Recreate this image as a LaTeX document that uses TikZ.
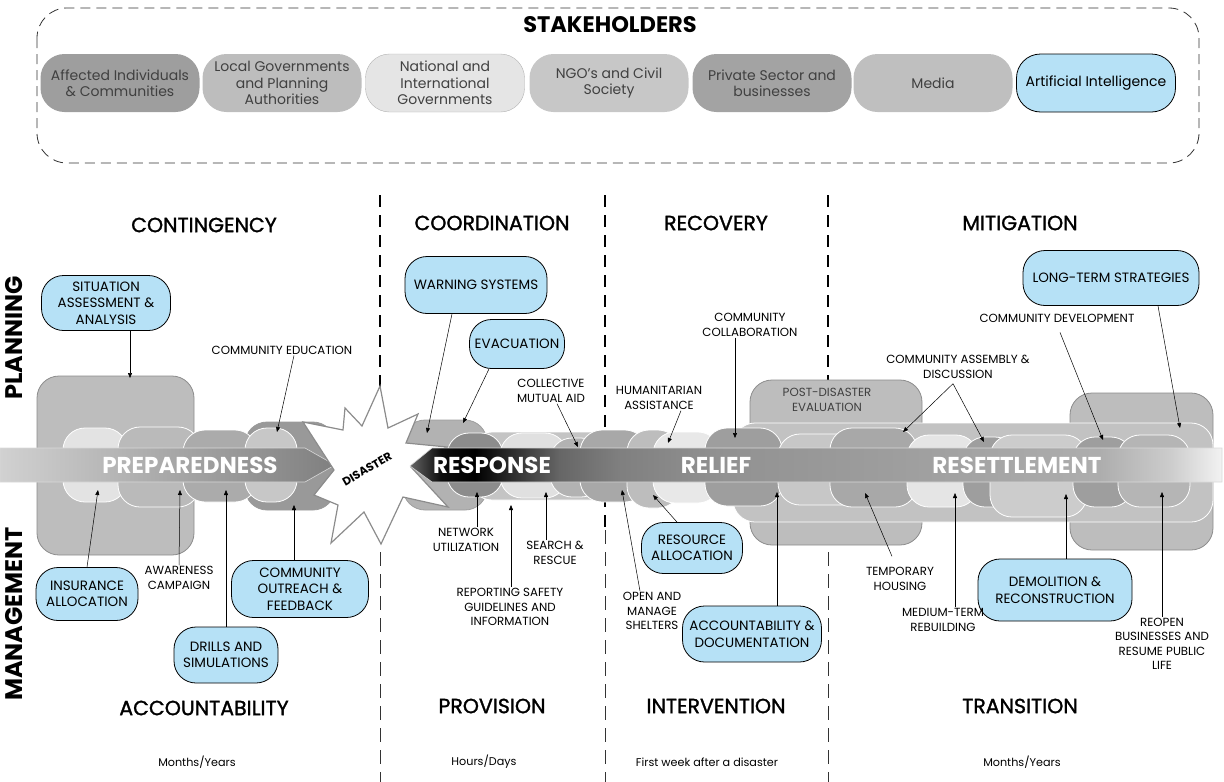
\documentclass[tikz,border=0pt]{standalone}
\usepackage{fontspec}
\setmainfont{Poppins}
\newfontfamily\popmed[FakeBold=1.4]{Poppins}
\usetikzlibrary{arrows.meta}

\definecolor{pillblue}{HTML}{B6E1F6}

\newcommand\hdrfont{\popmed\fontsize{20.5}{22}\selectfont}
\newcommand\bandfont{\bfseries\fontsize{23}{25}\selectfont}
\newcommand\sidefont{\bfseries\fontsize{24}{26}\selectfont}
\newcommand\titlefont{\bfseries\fontsize{22.5}{24}\selectfont}
\newcommand\pillfont{\fontsize{13.5}{16.5}\selectfont}
\newcommand\lblfont{\fontsize{11.8}{14.5}\selectfont}
\newcommand\stakefont{\fontsize{14}{16.5}\selectfont}
\newcommand\timefont{\fontsize{11.2}{13}\selectfont}
\newcommand\starfont{\bfseries\fontsize{11.5}{13}\selectfont}

% shading of the response / relief / resettlement band
\pgfdeclarehorizontalshading{respshade}{100bp}{rgb(0bp)=(.4,.4,.4); rgb(25bp)=(.4,.4,.4); rgb(26.9bp)=(.05,.05,.05); rgb(29bp)=(0,0,0); rgb(34.2bp)=(.4,.4,.4); rgb(37.9bp)=(.5,.5,.5); rgb(44.1bp)=(.57,.57,.57); rgb(55.2bp)=(.62,.62,.62); rgb(67.5bp)=(.68,.68,.68); rgb(71.8bp)=(.8,.8,.8); rgb(75bp)=(.95,.95,.95); rgb(100bp)=(.95,.95,.95)}

\begin{document}
\begin{tikzpicture}[x=1pt,y=-1pt,
  stake/.style={rounded corners=24pt, minimum width=159pt, minimum height=58pt, align=center, font=\stakefont, text=black!75, inner sep=2pt},
  bluepill/.style={draw=black, line width=0.8pt, fill=pillblue, rounded corners=22pt, align=center, font=\pillfont, inner sep=2pt},
  lbl/.style={align=center, font=\lblfont, inner sep=1pt},
  hdr/.style={font=\hdrfont},
  timelbl/.style={font=\timefont},
  bandtxt/.style={font=\bandfont, text=white},
  blob/.style={draw=white, line width=0.8pt, rounded corners=22pt},
  box/.style={draw=black!45, line width=0.8pt, rounded corners=22pt},
  arr/.style={-{Triangle[length=5pt,width=4pt]}, line width=0.5pt}]

\useasboundingbox (0,0) rectangle (1224,782);

% ===== stakeholders =====
\draw[black!80, line width=0.8pt, dash pattern=on 10pt off 6pt, rounded corners=30pt]
  (37,8) rectangle (1199,163);
\node[font=\titlefont] (stk) at (610,25) {STAKEHOLDERS};

\node[stake, fill=black!38] (st1) at (120,83) {Affected Individuals\\\& Communities};
\node[stake, fill=black!26] (st2) at (282,83) {Local Governments\\and Planning\\Authorities};
\node[stake, fill=black!10, draw=black!30] (st3) at (445,83) {National and\\International\\Governments};
\node[stake, fill=black!22] (st4) at (609,83) {NGO's and Civil\\Society};
\node[stake, fill=black!36] (st5) at (772,83) {Private Sector and\\businesses};
\node[stake, fill=black!25] (st6) at (933,83) {Media};
\node[stake, fill=pillblue, draw=black, line width=0.8pt, text=black] (st7) at (1096,83) {Artificial Intelligence};

% ===== phase separators =====
\foreach \x in {380,605,828} {
  \draw[line width=2.2pt, dash pattern=on 12pt off 8pt] (\x,195) -- (\x,530);
  \draw[line width=0.8pt, black!80, dash pattern=on 14pt off 8pt] (\x,530) -- (\x,782);
}

% ===== side labels =====
\node[font=\sidefont, rotate=90] (plan) at (14,338) {PLANNING};
\node[font=\sidefont, rotate=90] (mgmt) at (14,614) {MANAGEMENT};

% ===== column headers =====
\node[hdr] (h1) at (204,225) {CONTINGENCY};
\node[hdr] (h2) at (492,223) {COORDINATION};
\node[hdr] (h3) at (716,223) {RECOVERY};
\node[hdr] (h4) at (1020,223) {MITIGATION};
\node[hdr] (f1) at (204,708) {ACCOUNTABILITY};
\node[hdr] (f2) at (492,706) {PROVISION};
\node[hdr] (f3) at (716,706) {INTERVENTION};
\node[hdr] (f4) at (1020,706) {TRANSITION};
\node[timelbl] (tm1) at (197,762) {Months/Years};
\node[timelbl] (tm2) at (484,762) {Hours/Days};
\node[timelbl] (tm3) at (707,762) {First week after a disaster};
\node[timelbl] (tm4) at (1022,762) {Months/Years};

% ===== blobs: preparedness =====
\draw[box, fill=black!26] (37,376) rectangle (194,555);
\draw[blob, fill=black!40, draw=black!40] (245,422) rectangle (335,510);
\draw[blob, fill=black!11] (63,428) rectangle (127,502);
\draw[blob, fill=black!27] (118,427) rectangle (200,507);
\draw[blob, fill=black!33] (183,430) rectangle (257,502);
\draw[blob, fill=black!22] (245,428) rectangle (297,502);

% ===== blobs: response =====
\draw[blob, fill=black!30, draw=black!38] (403,420) rectangle (487,510);
\draw[blob, fill=black!23] (470,432) rectangle (655,500);
\draw[blob, fill=black!45] (447,433) rectangle (503,497);
\draw[blob, fill=black!12] (500,433) rectangle (567,498);
\draw[blob, fill=black!30] (550,438) rectangle (603,497);
\draw[blob, fill=black!34] (580,430) rectangle (647,502);

% ===== blobs: relief and resettlement =====
\draw[box, fill=black!26] (750,380) rectangle (922,545);
\draw[box, fill=black!26] (1070,393) rectangle (1213,550);
\draw[blob, fill=black!24] (733,423) rectangle (1213,522);
\draw[blob, fill=black!26] (627,430) rectangle (680,508);
\draw[blob, fill=black!9] (653,432) rectangle (720,503);
\draw[blob, fill=black!38] (705,428) rectangle (782,506);
\draw[blob, fill=black!22] (778,434) rectangle (892,505);
\draw[blob, fill=black!34] (830,428) rectangle (917,507);
\draw[blob, fill=black!10] (907,435) rectangle (978,507);
\draw[blob, fill=black!38] (963,437) rectangle (1017,507);
\draw[blob, fill=black!20] (990,435) rectangle (1087,517);
\draw[blob, fill=black!38] (1073,437) rectangle (1133,507);
\draw[blob, fill=black!29] (1118,435) rectangle (1190,507);
\node[lbl, text=black!75] (post) at (827,400) {POST-DISASTER\\EVALUATION};

% ===== bands =====
\shade[left color=black!18, right color=black!50, draw=black!15, line width=0.6pt]
  (0,448) -- (305,448) -- (335,465) -- (305,482) -- (0,482) -- cycle;

% disaster star
\draw[fill=white, draw=black!45, line width=1.2pt]
  (380,386) -- (388,428) -- (418,414) -- (406,443) -- (447,447) -- (411,467)
  -- (448,507) -- (403,497) -- (381,544) -- (364,512) -- (331,543) -- (338,505)
  -- (314,495) -- (334,470) -- (303,422) -- (343,430) -- (345,408) -- (362,426) -- cycle;
\node[font=\starfont, rotate=30, inner sep=0pt] (dis) at (367,469) {DISASTER};

\shade[shading=respshade, draw=black!15, line width=0.6pt]
  (410,466) -- (432,448) -- (1222,448) -- (1222,482) -- (432,482) -- cycle;

\node[bandtxt] (prep) at (190,465) {PREPAREDNESS};
\node[bandtxt] (resp) at (492,465) {RESPONSE};
\node[bandtxt] (reli) at (716,465) {RELIEF};
\node[bandtxt] (rese) at (1017,465) {RESETTLEMENT};

% ===== targets on the blobs =====
\coordinate (t-sit) at (130,378);
\coordinate (t-edu) at (277,432);
\coordinate (t-ins) at (98,490);
\coordinate (t-awa) at (180,490);
\coordinate (t-dri) at (226,490);
\coordinate (t-out) at (294,505);
\coordinate (t-warn) at (427,433);
\coordinate (t-evac) at (463,423);
\coordinate (t-col) at (578,447);
\coordinate (t-hum) at (668,443);
\coordinate (t-collab) at (735,438);
\coordinate (t-asm1) at (903,432);
\coordinate (t-asm2) at (984,442);
\coordinate (t-dev) at (1103,440);
\coordinate (t-lts) at (1180,428);
\coordinate (t-net) at (477,492);
\coordinate (t-rep) at (511,505);
\coordinate (t-sea) at (546,492);
\coordinate (t-opn) at (622,490);
\coordinate (t-res) at (653,495);
\coordinate (t-acc) at (777,492);
\coordinate (t-tmp) at (865,493);
\coordinate (t-med) at (955,493);
\coordinate (t-dem) at (1066,494);
\coordinate (t-reo) at (1162,492);

% ===== activities =====
\node[bluepill, minimum width=129pt, minimum height=55pt] (sit) at (106,303) {SITUATION\\ASSESSMENT \&\\ANALYSIS};
\node[bluepill, minimum width=102pt, minimum height=53pt] (ins) at (87,594) {INSURANCE\\ALLOCATION};
\node[bluepill, minimum width=104pt, minimum height=56pt] (dri) at (226,655) {DRILLS AND\\SIMULATIONS};
\node[bluepill, minimum width=137pt, minimum height=57pt] (out) at (300,589) {COMMUNITY\\OUTREACH \&\\FEEDBACK};
\node[bluepill, minimum width=142pt, minimum height=57pt] (warn) at (476,285) {WARNING SYSTEMS};
\node[bluepill, minimum width=95pt, minimum height=49pt] (evac) at (517,344) {EVACUATION};
\node[bluepill, minimum width=101pt, minimum height=51pt] (res) at (692,548) {RESOURCE\\ALLOCATION};
\node[bluepill, minimum width=139pt, minimum height=56pt] (acc) at (752,634) {ACCOUNTABILITY \&\\DOCUMENTATION};
\node[bluepill, minimum width=176pt, minimum height=55pt] (lts) at (1111,278) {LONG-TERM STRATEGIES};
\node[bluepill, minimum width=154pt, minimum height=62pt] (dem) at (1055,590) {DEMOLITION \&\\RECONSTRUCTION};

\node[lbl] (edu) at (282,350) {COMMUNITY EDUCATION};
\node[lbl] (awa) at (179,578) {AWARENESS\\CAMPAIGN};
\node[lbl] (col) at (551,391) {COLLECTIVE\\MUTUAL AID};
\node[lbl] (hum) at (659,398) {HUMANITARIAN\\ASSISTANCE};
\node[lbl] (collab) at (750,325) {COMMUNITY\\COLLABORATION};
\node[lbl] (asm) at (958,367) {COMMUNITY ASSEMBLY \&\\DISCUSSION};
\node[lbl] (dev) at (1057,318) {COMMUNITY DEVELOPMENT};
\node[lbl] (net) at (466,540) {NETWORK\\UTILIZATION};
\node[lbl] (sea) at (555,553) {SEARCH \&\\RESCUE};
\node[lbl] (rep) at (510,607) {REPORTING SAFETY\\GUIDELINES AND\\INFORMATION};
\node[lbl] (opn) at (652,611) {OPEN AND\\MANAGE\\SHELTERS};
\node[lbl] (tmp) at (900,579) {TEMPORARY\\HOUSING};
\node[lbl] (med) at (943,620) {MEDIUM-TERM\\REBUILDING};
\node[lbl] (reo) at (1162,644) {REOPEN\\BUSINESSES AND\\RESUME PUBLIC\\LIFE};

% ===== arrows =====
\draw[arr] (sit.south -| t-sit) -- (t-sit);
\draw[arr] ([xshift=12pt]edu.south) -- (t-edu);
\draw[arr] (ins.north) -- (t-ins);
\draw[arr] (awa.north) -- (t-awa);
\draw[arr] (dri.north) -- (t-dri);
\draw[arr] (out.north -| t-out) -- (t-out);
\draw[arr] ([xshift=-24pt]warn.south) -- (t-warn);
\draw[arr] ([xshift=-28pt]evac.south) -- (t-evac);
\draw[arr] ([xshift=6pt]col.south) -- (t-col);
\draw[arr] ([xshift=22pt]hum.south) -- (t-hum);
\draw[arr] (collab.south -| t-collab) -- (t-collab);
\draw[arr] ([xshift=-5pt,yshift=-4pt]asm.south) -- (t-asm1);
\draw[arr] ([xshift=-5pt,yshift=-4pt]asm.south) -- (t-asm2);
\draw[arr] ([xshift=3pt,yshift=-9pt]dev.south) -- (t-dev);
\draw[arr] ([xshift=47pt]lts.south) -- (t-lts);
\draw[arr] (net.north -| t-net) -- (t-net);
\draw[arr] (rep.north -| t-rep) -- (t-rep);
\draw[arr] (sea.north -| t-sea) -- (t-sea);
\draw[arr] ([xshift=-12pt]opn.north) -- (t-opn);
\draw[arr] ([xshift=-15pt]res.north) -- (t-res);
\draw[arr] (acc.north -| t-acc) -- (t-acc);
\draw[arr] ([xshift=-8pt,yshift=10pt]tmp.north) -- (t-tmp);
\draw[arr] (med.north -| t-med) -- (t-med);
\draw[arr] (dem.north -| t-dem) -- (t-dem);
\draw[arr] (reo.north -| t-reo) -- (t-reo);

\end{tikzpicture}
\end{document}
